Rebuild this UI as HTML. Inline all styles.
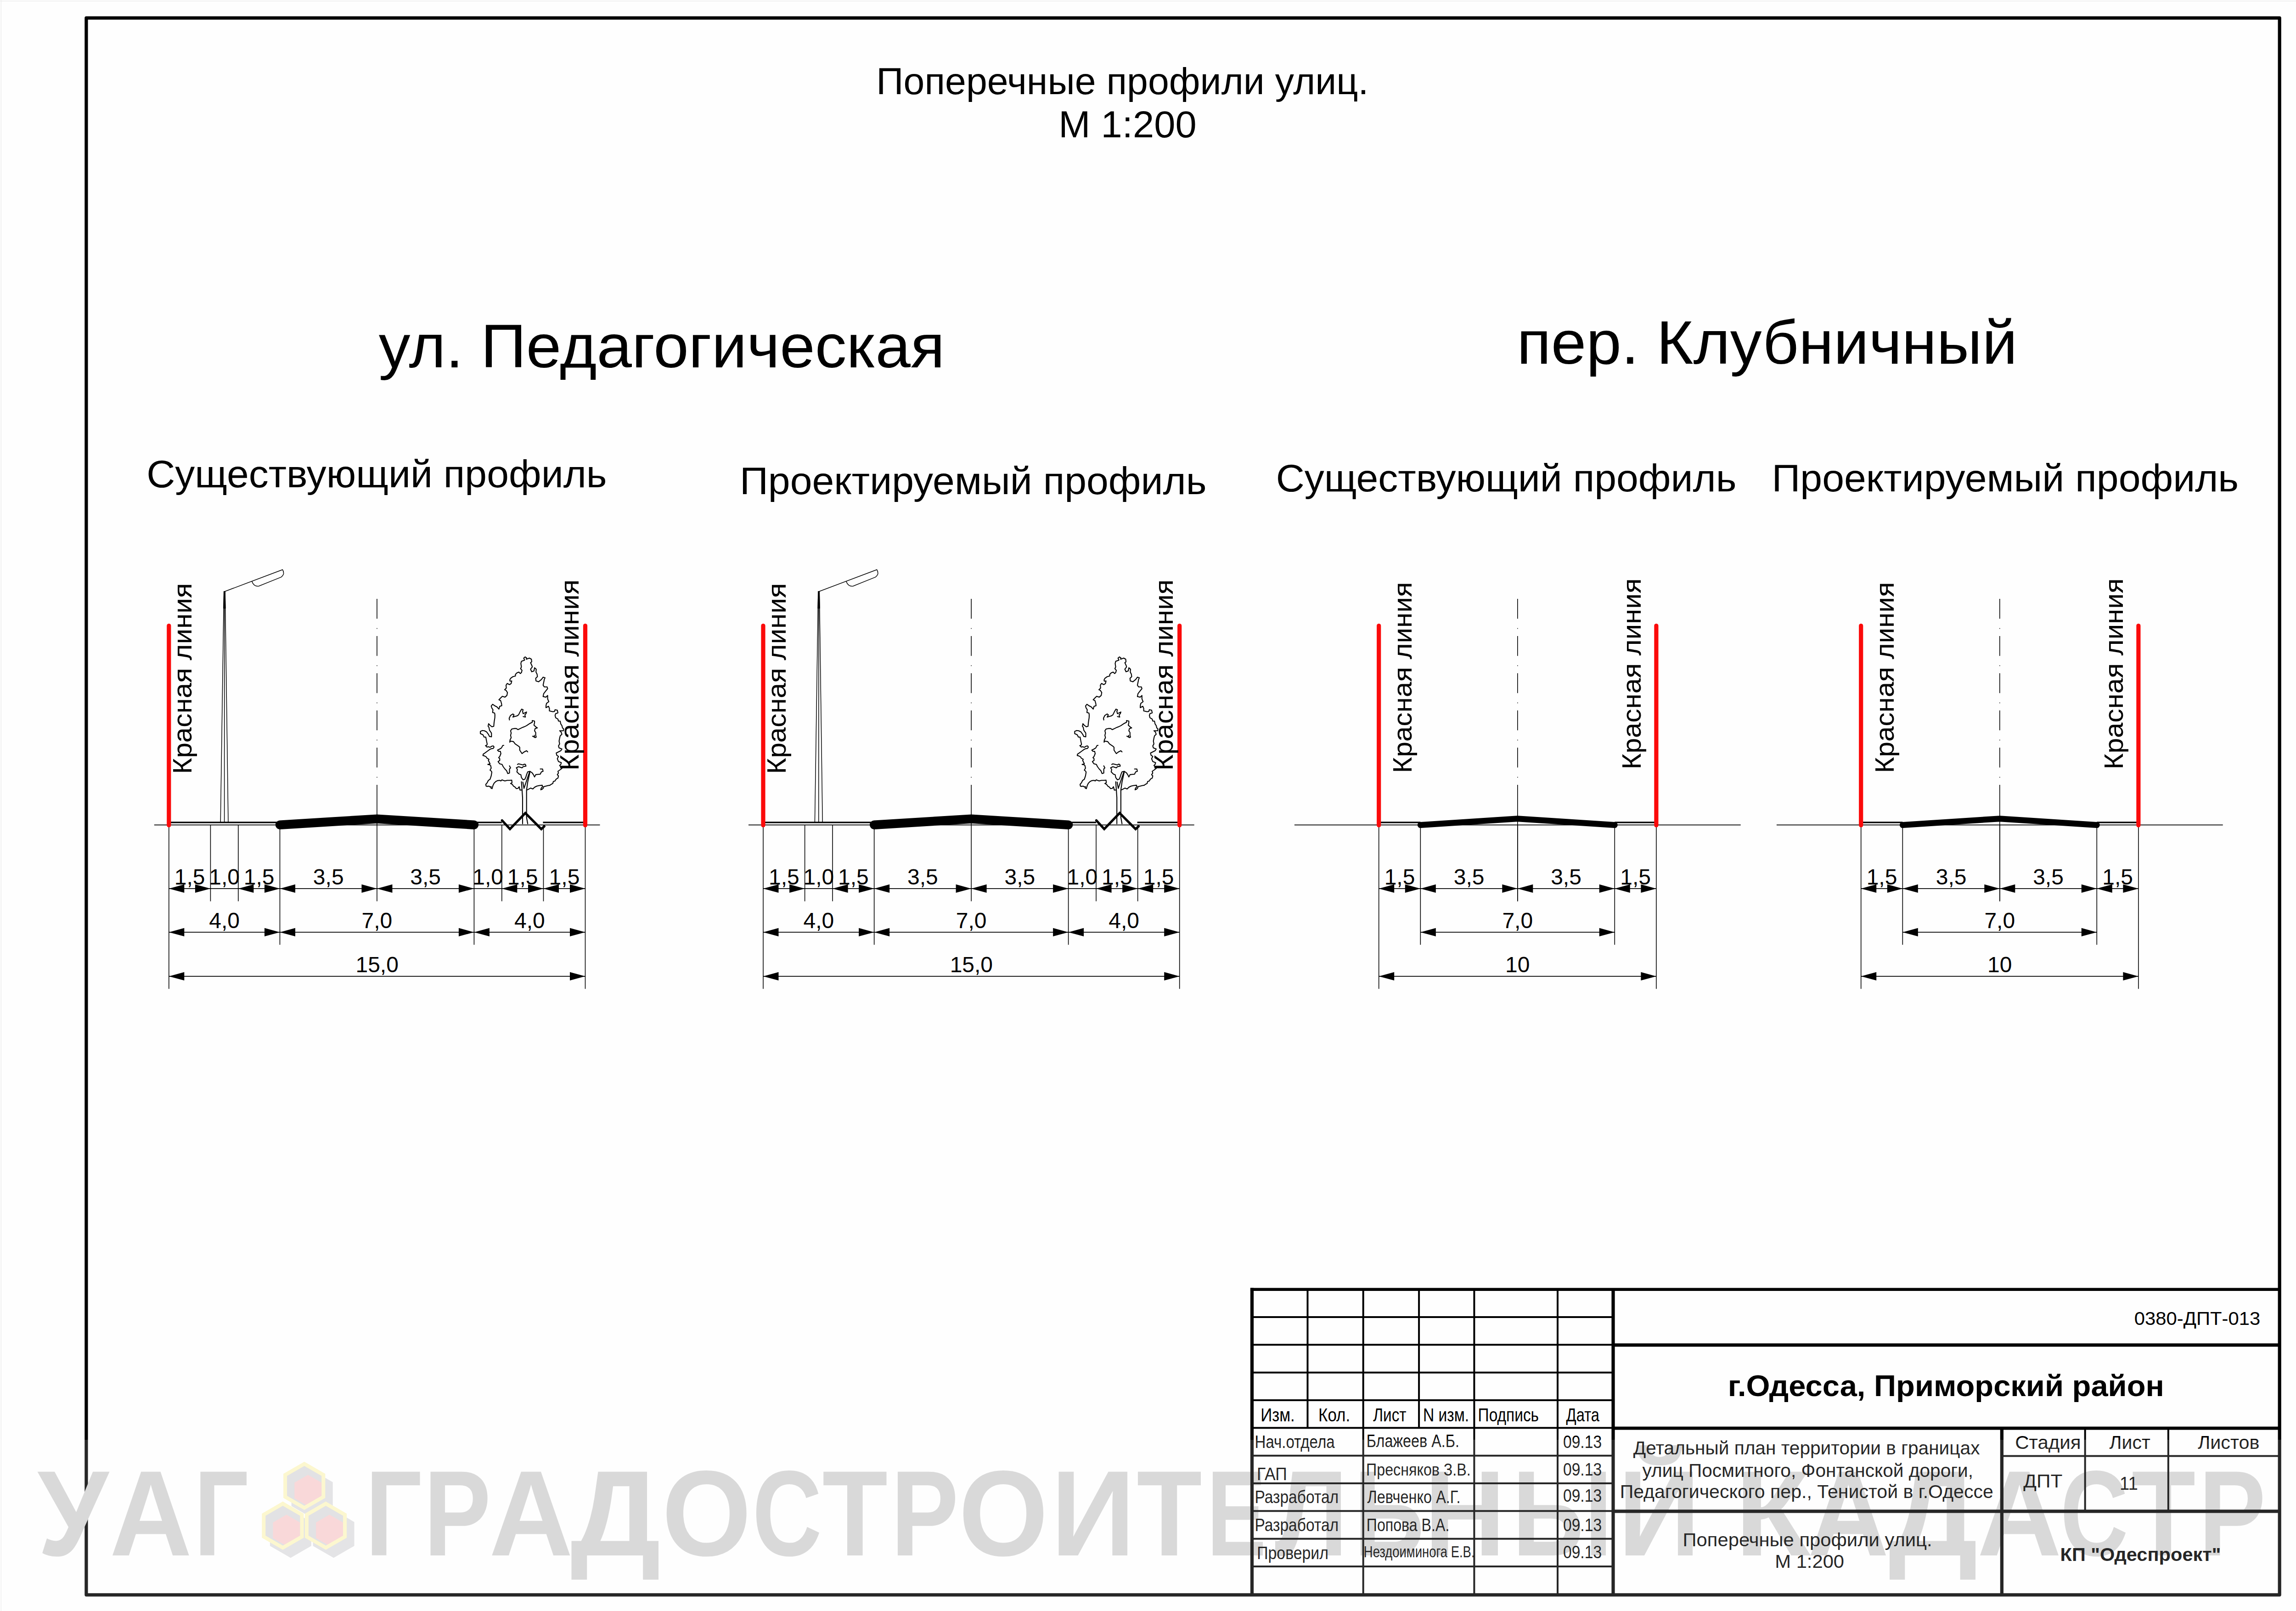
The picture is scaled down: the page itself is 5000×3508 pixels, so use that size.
<!DOCTYPE html>
<html><head><meta charset="utf-8"><title>Поперечные профили улиц</title>
<style>html,body{margin:0;padding:0;background:#fff;overflow:hidden}svg{display:block}text{font-family:"Liberation Sans",sans-serif}</style>
</head><body>
<svg width="5000" height="3508" viewBox="0 0 5000 3508">
<rect x="0" y="0" width="5000" height="3508" fill="#fefefe"/>
<line x1="0" y1="2.4" x2="5000" y2="2.4" stroke="#ebebeb" stroke-width="1.3"/>
<line x1="2.4" y1="0" x2="2.4" y2="3508" stroke="#ebebeb" stroke-width="1.3"/>
<rect x="187.9" y="39.2" width="4776.3" height="3433.6" fill="none" stroke="#000" stroke-width="7.2" stroke-linejoin="round"/>
<text x="1908.28" y="204.50" font-size="81" textLength="1072.23" lengthAdjust="spacingAndGlyphs" fill="#000">Поперечные профили улиц.</text>
<text x="2305.22" y="298.60" font-size="81" textLength="300.54" lengthAdjust="spacingAndGlyphs" fill="#000">М 1:200</text>
<text x="824.69" y="799.50" font-size="134" textLength="1232.84" lengthAdjust="spacingAndGlyphs" fill="#000">ул. Педагогическая</text>
<text x="3303.15" y="792.00" font-size="134" textLength="1090.31" lengthAdjust="spacingAndGlyphs" fill="#000">пер. Клубничный</text>
<text x="319.15" y="1060.60" font-size="83" textLength="1002.43" lengthAdjust="spacingAndGlyphs" fill="#000">Существующий профиль</text>
<text x="1611.06" y="1076.00" font-size="83" textLength="1016.52" lengthAdjust="spacingAndGlyphs" fill="#000">Проектируемый профиль</text>
<text x="2778.65" y="1069.60" font-size="83" textLength="1002.94" lengthAdjust="spacingAndGlyphs" fill="#000">Существующий профиль</text>
<text x="3858.56" y="1069.60" font-size="83" textLength="1016.62" lengthAdjust="spacingAndGlyphs" fill="#000">Проектируемый профиль</text>
<g font-family="Liberation Sans, sans-serif" fill="#d3d3d3"><text x="81.51" y="3387.00" font-size="265" font-weight="bold" textLength="154.69" lengthAdjust="spacingAndGlyphs" fill="#d3d3d3">У</text><text x="238.82" y="3387.00" font-size="265" font-weight="bold" textLength="179.32" lengthAdjust="spacingAndGlyphs" fill="#d3d3d3">А</text><text x="422.42" y="3387.00" font-size="265" font-weight="bold" textLength="118.62" lengthAdjust="spacingAndGlyphs" fill="#d3d3d3">Г</text><text x="795.47" y="3387.00" font-size="265" font-weight="bold" textLength="123.34" lengthAdjust="spacingAndGlyphs" fill="#d3d3d3">Г</text><text x="922.86" y="3387.00" font-size="265" font-weight="bold" textLength="146.23" lengthAdjust="spacingAndGlyphs" fill="#d3d3d3">Р</text><text x="1065.09" y="3387.00" font-size="265" font-weight="bold" textLength="182.87" lengthAdjust="spacingAndGlyphs" fill="#d3d3d3">А</text><text x="1242.10" y="3387.00" font-size="265" font-weight="bold" textLength="196.89" lengthAdjust="spacingAndGlyphs" fill="#d3d3d3">Д</text><text x="1441.51" y="3387.00" font-size="265" font-weight="bold" textLength="194.59" lengthAdjust="spacingAndGlyphs" fill="#d3d3d3">О</text><text x="1638.38" y="3387.00" font-size="265" font-weight="bold" textLength="151.38" lengthAdjust="spacingAndGlyphs" fill="#d3d3d3">С</text><text x="1790.66" y="3387.00" font-size="265" font-weight="bold" textLength="142.36" lengthAdjust="spacingAndGlyphs" fill="#d3d3d3">Т</text><text x="1940.25" y="3387.00" font-size="265" font-weight="bold" textLength="147.29" lengthAdjust="spacingAndGlyphs" fill="#d3d3d3">Р</text><text x="2087.70" y="3387.00" font-size="265" font-weight="bold" textLength="194.82" lengthAdjust="spacingAndGlyphs" fill="#d3d3d3">О</text><text x="2288.65" y="3387.00" font-size="265" font-weight="bold" textLength="183.47" lengthAdjust="spacingAndGlyphs" fill="#d3d3d3">И</text><text x="2475.37" y="3387.00" font-size="265" font-weight="bold" textLength="142.16" lengthAdjust="spacingAndGlyphs" fill="#d3d3d3">Т</text><text x="2628.03" y="3387.00" font-size="265" font-weight="bold" textLength="129.56" lengthAdjust="spacingAndGlyphs" fill="#d3d3d3">Е</text><text x="2776.14" y="3387.00" font-size="265" font-weight="bold" textLength="159.03" lengthAdjust="spacingAndGlyphs" fill="#d3d3d3">Л</text><text x="2948.80" y="3387.00" font-size="265" font-weight="bold" textLength="152.79" lengthAdjust="spacingAndGlyphs" fill="#d3d3d3">Ь</text><text x="3101.64" y="3387.00" font-size="265" font-weight="bold" textLength="176.88" lengthAdjust="spacingAndGlyphs" fill="#d3d3d3">Н</text><text x="3293.07" y="3387.00" font-size="265" font-weight="bold" textLength="218.90" lengthAdjust="spacingAndGlyphs" fill="#d3d3d3">Ы</text><text x="3523.43" y="3387.00" font-size="265" font-weight="bold" textLength="179.29" lengthAdjust="spacingAndGlyphs" fill="#d3d3d3">Й</text><text x="3777.98" y="3387.00" font-size="265" font-weight="bold" textLength="164.66" lengthAdjust="spacingAndGlyphs" fill="#d3d3d3">К</text><text x="3936.91" y="3387.00" font-size="265" font-weight="bold" textLength="176.52" lengthAdjust="spacingAndGlyphs" fill="#d3d3d3">А</text><text x="4112.63" y="3387.00" font-size="265" font-weight="bold" textLength="194.29" lengthAdjust="spacingAndGlyphs" fill="#d3d3d3">Д</text><text x="4305.65" y="3387.00" font-size="265" font-weight="bold" textLength="184.06" lengthAdjust="spacingAndGlyphs" fill="#d3d3d3">А</text><text x="4486.57" y="3387.00" font-size="265" font-weight="bold" textLength="148.06" lengthAdjust="spacingAndGlyphs" fill="#d3d3d3">С</text><text x="4641.92" y="3387.00" font-size="265" font-weight="bold" textLength="139.25" lengthAdjust="spacingAndGlyphs" fill="#d3d3d3">Т</text><text x="4788.42" y="3387.00" font-size="265" font-weight="bold" textLength="145.64" lengthAdjust="spacingAndGlyphs" fill="#d3d3d3">Р</text></g>
<g font-family="Liberation Sans, sans-serif">
<g id="p1"><line x1="335.80" y1="1796.40" x2="1306.50" y2="1796.40" stroke="#000" stroke-width="1.6" stroke-linecap="butt"/><line x1="367.80" y1="1790.80" x2="609.48" y2="1790.80" stroke="#000" stroke-width="3.2" stroke-linecap="butt"/><line x1="1032.42" y1="1790.80" x2="1092.84" y2="1790.80" stroke="#000" stroke-width="3.2" stroke-linecap="butt"/><line x1="1182.47" y1="1790.80" x2="1274.50" y2="1790.80" stroke="#000" stroke-width="3.2" stroke-linecap="butt"/><polyline points="480.2,1790.8 487.6,1288.2 490.2,1288.2 497,1790.8" fill="none" stroke="#000" stroke-width="1.5"/><polygon points="487.2,1287.5 490.6,1287.5 491.6,1325 486.2,1325" fill="#000"/><line x1="488.80" y1="1288.20" x2="488.60" y2="1790.80" stroke="#000" stroke-width="1.5" stroke-linecap="butt"/><path d="M488.7,1288.2 L615.3,1240.5 Q618,1244 617.5,1250 Q616,1254 612.4,1256.6 L563.7,1276.2 Q553,1278 548.8,1266.2" fill="none" stroke="#000" stroke-width="1.5"/><polyline points="1143.6,1430.6 1140.5,1433.0 1142.4,1437.4 1135.5,1439.9 1134.3,1444.8 1135.5,1452.3 1133.7,1456.0 1136.8,1459.7 1135.5,1464.7 1133.0,1466.6 1129.9,1463.5 1125.6,1465.3 1122.5,1468.4 1122.5,1472.1 1116.9,1473.4 1111.9,1477.1 1110.1,1480.8 1110.7,1483.3 1114.4,1482.7 1113.2,1488.3 1109.5,1490.8 1104.5,1488.3 1102.0,1492.0 1102.6,1498.2 1098.9,1501.9 1102.0,1503.2 1105.1,1508.1 1103.9,1514.4 1099.5,1518.1 1093.9,1516.2 1089.6,1520.6 1086.5,1523.7 1090.2,1525.5 1092.1,1531.7 1092.7,1536.7 1088.3,1537.9 1086.5,1544.1 1082.1,1539.2 1077.2,1536.7 1072.8,1533.6 1069.7,1537.3 1071.0,1541.7 1073.5,1545.4 1072.8,1551.6 1077.2,1552.8 1077.8,1556.6 1077.6,1562.8 1076.6,1569.0 1075.9,1573.9 1075.3,1581.4 1071.6,1582.6 1067.2,1579.5 1064.1,1575.8 1062.9,1581.4 1064.8,1583.9 1066.0,1590.1 1070.3,1596.3 1070.3,1604.4 1066.0,1603.7 1063.5,1598.8 1059.8,1593.8 1054.8,1591.3 1050.5,1590.7 1046.1,1592.6 1046.1,1597.5 1051.7,1600.0 1054.2,1605.0 1057.9,1605.0 1058.6,1608.7 1059.8,1614.9 1061.0,1620.5 1059.8,1623.0 1057.3,1623.6 1060.4,1626.7 1063.5,1626.1 1067.2,1627.3 1071.0,1624.8 1074.1,1624.2 1075.9,1626.7 1074.1,1629.8 1069.7,1630.4 1066.0,1632.3 1061.0,1636.0 1056.1,1639.7 1052.3,1642.2 1051.7,1645.3 1054.8,1645.9 1059.2,1648.4 1060.4,1650.9 1064.8,1653.4 1063.5,1655.9 1065.4,1659.6 1067.2,1663.3 1062.3,1664.6 1066.0,1665.2 1068.5,1667.0 1069.7,1672.6 1067.2,1677.0 1070.3,1679.5 1071.0,1681.9 1069.7,1689.4 1067.2,1696.8 1063.5,1699.3 1061.0,1704.3 1057.9,1708.0 1058.6,1711.7 1061.0,1712.4 1064.8,1711.7 1067.2,1713.6 1069.7,1713.0 1069.1,1716.1 1071.6,1717.3 1073.5,1710.5 1075.9,1705.5 1079.7,1701.8 1083.4,1699.9 1088.3,1699.3 1090.8,1700.6 1093.3,1698.1 1095.8,1699.3 1099.5,1700.6 1104.5,1699.3 1109.5,1699.3 1114.4,1698.7 1115.0,1704.3 1111.9,1706.1 1115.7,1708.0 1118.1,1711.7 1121.9,1714.2 1124.4,1717.3 1128.1,1716.7 1130.6,1713.0 1132.4,1720.4 1136.5,1720.2" fill="none" stroke="#000" stroke-width="2.1" stroke-linejoin="round" stroke-linecap="round"/><polyline points="1143.6,1430.6 1146.7,1432.4 1146.1,1435.5 1152.9,1433.0 1157.3,1435.5 1157.9,1441.1 1155.4,1443.0 1158.5,1449.8 1159.1,1452.3 1155.4,1457.2 1157.9,1462.8 1162.8,1461.0 1164.1,1454.1 1167.8,1457.2 1167.2,1463.5 1169.6,1468.1 1170.3,1473.4 1166.6,1477.1 1167.2,1482.7 1172.8,1484.6 1179.0,1479.6 1182.7,1474.6 1187.0,1475.9 1185.2,1479.6 1184.6,1483.3 1182.7,1492.0 1185.2,1495.7 1191.4,1495.7 1192.6,1499.5 1187.7,1505.7 1183.9,1510.6 1182.7,1516.8 1188.9,1518.1 1192.6,1514.4 1192.6,1521.8 1195.1,1528.0 1190.1,1531.7 1189.1,1536.3 1188.9,1541.0 1194.5,1537.9 1196.5,1542.7 1196.4,1547.9 1203.8,1549.7 1207.5,1549.1 1208.8,1545.4 1213.7,1546.6 1215.0,1552.2 1210.0,1554.1 1208.8,1557.8 1210.0,1562.8 1215.0,1565.9 1216.2,1570.2 1219.9,1570.2 1221.2,1576.4 1223.7,1580.1 1224.9,1585.1 1227.4,1587.0 1226.8,1591.3 1218.7,1591.3 1221.8,1593.8 1223.7,1598.8 1219.9,1602.5 1218.7,1607.5 1217.5,1613.7 1218.7,1619.9 1216.2,1624.2 1217.5,1628.6 1223.7,1631.0 1221.2,1634.8 1216.2,1637.2 1211.3,1639.7 1212.5,1644.7 1216.2,1647.2 1213.7,1652.1 1216.2,1658.3 1222.4,1660.8 1221.2,1664.6 1218.7,1667.0 1221.2,1669.5 1223.7,1673.2 1218.7,1677.0 1215.0,1679.5 1216.2,1683.2 1213.7,1686.9 1216.2,1689.4 1215.0,1694.4 1212.5,1695.6 1210.0,1698.1 1208.8,1700.6 1205.0,1701.8 1203.8,1706.1 1200.1,1708.0 1197.6,1709.9 1193.9,1710.5 1188.9,1711.7 1183.9,1713.0 1183.3,1716.1 1180.8,1718.6 1177.7,1719.8 1178.4,1716.7 1181.5,1713.0 1180.8,1709.9 1174.6,1710.5 1169.0,1711.7 1164.1,1714.2 1160.4,1717.9 1155.4,1716.1 1148.6,1719.8" fill="none" stroke="#000" stroke-width="2.1" stroke-linejoin="round" stroke-linecap="round"/><polyline points="1109.5,1567.7 1108.8,1564.0 1111.9,1557.8 1116.9,1554.7 1119.4,1556.6 1116.9,1561.5 1120.6,1560.3 1125.6,1559.0 1129.3,1556.6 1133.0,1549.1 1136.1,1544.1 1139.2,1545.4 1138.0,1549.1 1139.2,1554.1 1146.7,1550.4 1145.5,1554.1 1143.0,1556.6 1144.2,1561.5 1139.2,1560.3" fill="none" stroke="#000" stroke-width="2.1" stroke-linejoin="round" stroke-linecap="round"/><polyline points="1161.6,1603.7 1165.3,1606.2 1167.8,1605.0 1166.6,1601.3 1166.6,1595.0 1164.1,1591.3 1165.3,1586.4 1170.3,1585.1 1166.6,1582.6 1162.8,1578.9 1164.1,1573.9 1164.1,1570.2 1159.1,1569.0 1159.1,1572.7 1154.1,1575.2 1150.4,1577.7 1146.7,1580.1 1141.7,1582.6 1138.0,1583.9 1133.0,1586.4 1128.1,1588.8 1124.4,1586.4 1119.4,1586.4 1114.4,1587.6 1111.9,1591.3 1113.2,1596.3 1111.9,1601.3 1113.2,1606.2 1110.7,1611.2 1110.1,1616.2 1111.9,1613.7 1118.1,1614.9 1121.9,1619.9 1129.3,1624.8 1131.8,1627.3 1131.8,1633.5 1136.8,1641.0 1141.7,1637.2 1146.7,1634.8 1149.2,1637.2" fill="none" stroke="#000" stroke-width="2.1" stroke-linejoin="round" stroke-linecap="round"/><polyline points="1097.0,1623.0 1094.6,1623.6 1092.1,1628.6 1088.3,1631.0 1083.4,1633.5 1085.9,1636.0 1089.6,1636.0 1090.8,1641.0 1088.3,1647.2 1085.9,1649.7 1088.3,1652.1 1088.3,1655.9 1084.6,1658.3 1088.3,1663.3 1093.3,1664.6 1095.8,1669.5 1099.5,1674.5 1103.2,1678.2 1105.7,1684.4 1109.5,1683.2 1109.5,1674.5 1111.9,1672.0 1109.5,1667.7" fill="none" stroke="#000" stroke-width="2.1" stroke-linejoin="round" stroke-linecap="round"/><polyline points="1176.5,1674.5 1181.5,1674.5 1182.7,1679.5 1179.0,1680.7 1176.5,1685.7 1171.5,1686.2 1166.6,1686.9 1164.1,1691.9 1161.6,1686.9 1159.1,1683.2 1154.1,1679.5 1149.2,1680.7 1146.7,1686.9 1145.2,1692.0 1143.0,1696.8 1139.2,1698.1 1135.5,1693.1 1134.3,1686.9 1130.6,1685.7 1125.6,1680.7 1126.8,1675.7 1124.4,1672.0 1129.3,1669.5 1136.8,1672.0 1139.2,1669.5 1145.5,1668.3 1144.2,1664.6 1141.7,1663.9 1139.2,1665.8 1134.3,1664.6 1129.3,1663.3 1126.8,1664.6" fill="none" stroke="#000" stroke-width="2.1" stroke-linejoin="round" stroke-linecap="round"/><polyline points="1159.7,1603.1 1164.1,1605.0 1163.5,1601.2" fill="none" stroke="#000" stroke-width="2.1" stroke-linejoin="round" stroke-linecap="round"/><polyline points="1135.5,1702.4 1136.8,1719.2 1138.0,1736.6 1138.0,1793.7" fill="none" stroke="#000" stroke-width="2.1" stroke-linejoin="round" stroke-linecap="round"/><polyline points="1154.1,1680.7 1149.2,1703.0 1146.7,1720.4 1146.7,1761.4 1146.7,1780.0 1149.2,1793.7" fill="none" stroke="#000" stroke-width="2.1" stroke-linejoin="round" stroke-linecap="round"/><polyline points="1138.6,1703.0 1141.1,1716.7 1152.9,1681.9" fill="none" stroke="#000" stroke-width="2.1" stroke-linejoin="round" stroke-linecap="round"/><polyline points="1093.3,1786.5 1110.5,1805.3 1144,1770.5 1178.8,1805.3 1185.3,1799.4" fill="none" stroke="#000" stroke-width="5.2" stroke-linejoin="miter" stroke-linecap="round"/><polyline points="609.48,1796.2 820.95,1783.2 1032.42,1796.2" fill="none" stroke="#000" stroke-width="19.5" stroke-linecap="round" stroke-linejoin="round"/><line x1="820.95" y1="1304.10" x2="820.95" y2="1709.10" stroke="#000" stroke-width="1.6" stroke-dasharray="43.2 20.4 1.6 15.8"/><line x1="820.95" y1="1709.10" x2="820.95" y2="1962.60" stroke="#000" stroke-width="1.6" stroke-linecap="butt"/><line x1="458.43" y1="1796.40" x2="458.43" y2="1962.60" stroke="#000" stroke-width="1.6" stroke-linecap="butt"/><line x1="518.85" y1="1796.40" x2="518.85" y2="1962.60" stroke="#000" stroke-width="1.6" stroke-linecap="butt"/><line x1="1092.84" y1="1796.40" x2="1092.84" y2="1962.60" stroke="#000" stroke-width="1.6" stroke-linecap="butt"/><line x1="1183.47" y1="1796.40" x2="1183.47" y2="1962.60" stroke="#000" stroke-width="1.6" stroke-linecap="butt"/><line x1="609.48" y1="1796.40" x2="609.48" y2="2057.30" stroke="#000" stroke-width="1.6" stroke-linecap="butt"/><line x1="1032.42" y1="1796.40" x2="1032.42" y2="2057.30" stroke="#000" stroke-width="1.6" stroke-linecap="butt"/><line x1="367.80" y1="1796.40" x2="367.80" y2="2153.30" stroke="#000" stroke-width="1.6" stroke-linecap="butt"/><line x1="1274.50" y1="1796.40" x2="1274.50" y2="2153.30" stroke="#000" stroke-width="1.6" stroke-linecap="butt"/><line x1="367.80" y1="1362.50" x2="367.80" y2="1797.00" stroke="#fb0a0a" stroke-width="9.2" stroke-linecap="round"/><line x1="1274.50" y1="1362.50" x2="1274.50" y2="1797.00" stroke="#fb0a0a" stroke-width="9.2" stroke-linecap="round"/><line x1="367.80" y1="1934.90" x2="1274.50" y2="1934.90" stroke="#000" stroke-width="1.6" stroke-linecap="butt"/><polygon points="367.80,1934.90 401.30,1925.70 401.30,1944.10" fill="#000"/><polygon points="458.43,1934.90 424.93,1925.70 424.93,1944.10" fill="#000"/><text x="413.12" y="1925.90" font-size="48" text-anchor="middle">1,5</text><text x="488.64" y="1925.90" font-size="48" text-anchor="middle">1,0</text><polygon points="518.85,1934.90 552.35,1925.70 552.35,1944.10" fill="#000"/><polygon points="609.48,1934.90 575.98,1925.70 575.98,1944.10" fill="#000"/><text x="564.16" y="1925.90" font-size="48" text-anchor="middle">1,5</text><polygon points="609.48,1934.90 642.98,1925.70 642.98,1944.10" fill="#000"/><polygon points="820.95,1934.90 787.45,1925.70 787.45,1944.10" fill="#000"/><text x="715.22" y="1925.90" font-size="48" text-anchor="middle">3,5</text><polygon points="820.95,1934.90 854.45,1925.70 854.45,1944.10" fill="#000"/><polygon points="1032.42,1934.90 998.92,1925.70 998.92,1944.10" fill="#000"/><text x="926.69" y="1925.90" font-size="48" text-anchor="middle">3,5</text><text x="1062.63" y="1925.90" font-size="48" text-anchor="middle">1,0</text><polygon points="1092.84,1934.90 1126.34,1925.70 1126.34,1944.10" fill="#000"/><polygon points="1183.47,1934.90 1149.97,1925.70 1149.97,1944.10" fill="#000"/><text x="1138.15" y="1925.90" font-size="48" text-anchor="middle">1,5</text><polygon points="1183.47,1934.90 1216.97,1925.70 1216.97,1944.10" fill="#000"/><polygon points="1274.50,1934.90 1241.00,1925.70 1241.00,1944.10" fill="#000"/><text x="1228.99" y="1925.90" font-size="48" text-anchor="middle">1,5</text><line x1="367.80" y1="2029.90" x2="1274.50" y2="2029.90" stroke="#000" stroke-width="1.6" stroke-linecap="butt"/><polygon points="367.80,2029.90 401.30,2020.70 401.30,2039.10" fill="#000"/><polygon points="609.48,2029.90 575.98,2020.70 575.98,2039.10" fill="#000"/><text x="488.64" y="2020.90" font-size="48" text-anchor="middle">4,0</text><polygon points="609.48,2029.90 642.98,2020.70 642.98,2039.10" fill="#000"/><polygon points="1032.42,2029.90 998.92,2020.70 998.92,2039.10" fill="#000"/><text x="820.95" y="2020.90" font-size="48" text-anchor="middle">7,0</text><polygon points="1032.42,2029.90 1065.92,2020.70 1065.92,2039.10" fill="#000"/><polygon points="1274.50,2029.90 1241.00,2020.70 1241.00,2039.10" fill="#000"/><text x="1153.46" y="2020.90" font-size="48" text-anchor="middle">4,0</text><line x1="367.80" y1="2125.90" x2="1274.50" y2="2125.90" stroke="#000" stroke-width="1.6" stroke-linecap="butt"/><polygon points="367.80,2125.90 401.30,2116.70 401.30,2135.10" fill="#000"/><polygon points="1274.50,2125.90 1241.00,2116.70 1241.00,2135.10" fill="#000"/><text x="821.15" y="2116.90" font-size="48" text-anchor="middle">15,0</text><text transform="translate(416.50,1685.62) rotate(-90)" x="0" y="0" font-size="57.5" textLength="416.02" lengthAdjust="spacingAndGlyphs" fill="#000">Красная линия</text><text transform="translate(1260.10,1677.92) rotate(-90)" x="0" y="0" font-size="57.5" textLength="416.02" lengthAdjust="spacingAndGlyphs" fill="#000">Красная линия</text></g>
<use href="#p1" transform="translate(1294.2,0)"/>
<g id="p3"><line x1="2818.90" y1="1796.40" x2="3790.70" y2="1796.40" stroke="#000" stroke-width="1.6" stroke-linecap="butt"/><line x1="3002.70" y1="1790.80" x2="3093.33" y2="1790.80" stroke="#000" stroke-width="3.2" stroke-linecap="butt"/><line x1="3516.27" y1="1790.80" x2="3606.90" y2="1790.80" stroke="#000" stroke-width="3.2" stroke-linecap="butt"/><polyline points="3093.33,1796.5 3304.80,1782.7 3516.27,1796.5" fill="none" stroke="#000" stroke-width="13" stroke-linecap="round" stroke-linejoin="round"/><line x1="3304.80" y1="1304.10" x2="3304.80" y2="1709.10" stroke="#000" stroke-width="1.6" stroke-dasharray="43.2 20.4 1.6 15.8"/><line x1="3304.80" y1="1709.10" x2="3304.80" y2="1962.60" stroke="#000" stroke-width="1.6" stroke-linecap="butt"/><line x1="3304.80" y1="1796.40" x2="3304.80" y2="1962.60" stroke="#000" stroke-width="1.6" stroke-linecap="butt"/><line x1="3093.33" y1="1796.40" x2="3093.33" y2="2057.30" stroke="#000" stroke-width="1.6" stroke-linecap="butt"/><line x1="3516.27" y1="1796.40" x2="3516.27" y2="2057.30" stroke="#000" stroke-width="1.6" stroke-linecap="butt"/><line x1="3002.70" y1="1796.40" x2="3002.70" y2="2153.30" stroke="#000" stroke-width="1.6" stroke-linecap="butt"/><line x1="3606.90" y1="1796.40" x2="3606.90" y2="2153.30" stroke="#000" stroke-width="1.6" stroke-linecap="butt"/><line x1="3002.70" y1="1362.50" x2="3002.70" y2="1797.00" stroke="#fb0a0a" stroke-width="9.2" stroke-linecap="round"/><line x1="3606.90" y1="1362.50" x2="3606.90" y2="1797.00" stroke="#fb0a0a" stroke-width="9.2" stroke-linecap="round"/><line x1="3002.70" y1="1934.90" x2="3606.90" y2="1934.90" stroke="#000" stroke-width="1.6" stroke-linecap="butt"/><polygon points="3002.70,1934.90 3036.20,1925.70 3036.20,1944.10" fill="#000"/><polygon points="3093.33,1934.90 3059.83,1925.70 3059.83,1944.10" fill="#000"/><text x="3048.01" y="1925.90" font-size="48" text-anchor="middle">1,5</text><polygon points="3093.33,1934.90 3126.83,1925.70 3126.83,1944.10" fill="#000"/><polygon points="3304.80,1934.90 3271.30,1925.70 3271.30,1944.10" fill="#000"/><text x="3199.06" y="1925.90" font-size="48" text-anchor="middle">3,5</text><polygon points="3304.80,1934.90 3338.30,1925.70 3338.30,1944.10" fill="#000"/><polygon points="3516.27,1934.90 3482.77,1925.70 3482.77,1944.10" fill="#000"/><text x="3410.53" y="1925.90" font-size="48" text-anchor="middle">3,5</text><polygon points="3516.27,1934.90 3549.77,1925.70 3549.77,1944.10" fill="#000"/><polygon points="3606.90,1934.90 3573.40,1925.70 3573.40,1944.10" fill="#000"/><text x="3561.59" y="1925.90" font-size="48" text-anchor="middle">1,5</text><line x1="3093.33" y1="2029.90" x2="3516.27" y2="2029.90" stroke="#000" stroke-width="1.6" stroke-linecap="butt"/><polygon points="3093.33,2029.90 3126.83,2020.70 3126.83,2039.10" fill="#000"/><polygon points="3516.27,2029.90 3482.77,2020.70 3482.77,2039.10" fill="#000"/><text x="3304.80" y="2020.90" font-size="48" text-anchor="middle">7,0</text><line x1="3002.70" y1="2125.90" x2="3606.90" y2="2125.90" stroke="#000" stroke-width="1.6" stroke-linecap="butt"/><polygon points="3002.70,2125.90 3036.20,2116.70 3036.20,2135.10" fill="#000"/><polygon points="3606.90,2125.90 3573.40,2116.70 3573.40,2135.10" fill="#000"/><text x="3304.80" y="2116.90" font-size="48" text-anchor="middle">10</text><text transform="translate(3074.30,1683.52) rotate(-90)" x="0" y="0" font-size="57.5" textLength="416.02" lengthAdjust="spacingAndGlyphs" fill="#000">Красная линия</text><text transform="translate(3572.50,1675.52) rotate(-90)" x="0" y="0" font-size="57.5" textLength="416.02" lengthAdjust="spacingAndGlyphs" fill="#000">Красная линия</text></g>
<use href="#p3" transform="translate(1050,0)"/>
</g>
<g font-family="Liberation Sans, sans-serif">
<line x1="2726.50" y1="2868.03" x2="3513.00" y2="2868.03" stroke="#000" stroke-width="4.0" stroke-linecap="butt"/>
<line x1="2726.50" y1="2928.36" x2="3513.00" y2="2928.36" stroke="#000" stroke-width="4.0" stroke-linecap="butt"/>
<line x1="2726.50" y1="2988.69" x2="3513.00" y2="2988.69" stroke="#000" stroke-width="4.0" stroke-linecap="butt"/>
<line x1="2726.50" y1="3049.02" x2="3513.00" y2="3049.02" stroke="#000" stroke-width="4.0" stroke-linecap="butt"/>
<line x1="2726.50" y1="3109.35" x2="3513.00" y2="3109.35" stroke="#000" stroke-width="4.0" stroke-linecap="butt"/>
<line x1="2726.50" y1="3169.68" x2="3513.00" y2="3169.68" stroke="#000" stroke-width="4.0" stroke-linecap="butt"/>
<line x1="2726.50" y1="3230.01" x2="3513.00" y2="3230.01" stroke="#000" stroke-width="4.0" stroke-linecap="butt"/>
<line x1="2726.50" y1="3290.34" x2="3513.00" y2="3290.34" stroke="#000" stroke-width="4.0" stroke-linecap="butt"/>
<line x1="2726.50" y1="3350.67" x2="3513.00" y2="3350.67" stroke="#000" stroke-width="4.0" stroke-linecap="butt"/>
<line x1="2726.50" y1="3411.00" x2="3513.00" y2="3411.00" stroke="#000" stroke-width="4.0" stroke-linecap="butt"/>
<line x1="2847.50" y1="2807.70" x2="2847.50" y2="3109.35" stroke="#000" stroke-width="4.0" stroke-linecap="butt"/>
<line x1="3090.10" y1="2807.70" x2="3090.10" y2="3109.35" stroke="#000" stroke-width="4.0" stroke-linecap="butt"/>
<line x1="2968.70" y1="2807.70" x2="2968.70" y2="3472.80" stroke="#000" stroke-width="4.0" stroke-linecap="butt"/>
<line x1="3210.40" y1="2807.70" x2="3210.40" y2="3472.80" stroke="#000" stroke-width="4.0" stroke-linecap="butt"/>
<line x1="3392.00" y1="2807.70" x2="3392.00" y2="3472.80" stroke="#000" stroke-width="4.0" stroke-linecap="butt"/>
<line x1="2726.50" y1="2804.50" x2="2726.50" y2="3472.80" stroke="#000" stroke-width="7.2" stroke-linecap="butt"/>
<line x1="2722.90" y1="2807.70" x2="4964.20" y2="2807.70" stroke="#000" stroke-width="6.6" stroke-linecap="butt"/>
<line x1="3513.00" y1="2807.70" x2="3513.00" y2="3472.80" stroke="#000" stroke-width="7.2" stroke-linecap="butt"/>
<line x1="3513.00" y1="2928.80" x2="4964.20" y2="2928.80" stroke="#000" stroke-width="7.2" stroke-linecap="butt"/>
<line x1="3513.00" y1="3110.00" x2="4964.20" y2="3110.00" stroke="#000" stroke-width="7.2" stroke-linecap="butt"/>
<line x1="3513.00" y1="3290.90" x2="4964.20" y2="3290.90" stroke="#000" stroke-width="7.2" stroke-linecap="butt"/>
<line x1="4359.40" y1="3110.00" x2="4359.40" y2="3472.80" stroke="#000" stroke-width="7.2" stroke-linecap="butt"/>
<line x1="4540.70" y1="3110.00" x2="4540.70" y2="3290.90" stroke="#000" stroke-width="4.0" stroke-linecap="butt"/>
<line x1="4721.90" y1="3110.00" x2="4721.90" y2="3290.90" stroke="#000" stroke-width="4.0" stroke-linecap="butt"/>
<line x1="4359.40" y1="3170.60" x2="4964.20" y2="3170.60" stroke="#000" stroke-width="4.0" stroke-linecap="butt"/>
<text x="2745.21" y="3094.80" font-size="41" textLength="74.57" lengthAdjust="spacingAndGlyphs" fill="#000">Изм.</text>
<text x="2871.10" y="3094.80" font-size="41" textLength="69.14" lengthAdjust="spacingAndGlyphs" fill="#000">Кол.</text>
<text x="2990.28" y="3094.80" font-size="41" textLength="72.28" lengthAdjust="spacingAndGlyphs" fill="#000">Лист</text>
<text x="3098.91" y="3094.80" font-size="41" textLength="100.18" lengthAdjust="spacingAndGlyphs" fill="#000">N изм.</text>
<text x="3218.61" y="3094.80" font-size="41" textLength="132.45" lengthAdjust="spacingAndGlyphs" fill="#000">Подпись</text>
<text x="3410.56" y="3094.80" font-size="41" textLength="72.43" lengthAdjust="spacingAndGlyphs" fill="#000">Дата</text>
<text x="2732.50" y="3152.90" font-size="38" textLength="174.10" lengthAdjust="spacingAndGlyphs" fill="#000">Нач.отдела</text>
<text x="2975.76" y="3151.10" font-size="38" textLength="202.17" lengthAdjust="spacingAndGlyphs" fill="#000">Блажеев А.Б.</text>
<text x="2737.10" y="3223.30" font-size="38" textLength="65.67" lengthAdjust="spacingAndGlyphs" fill="#000">ГАП</text>
<text x="2975.10" y="3212.90" font-size="36" textLength="227.61" lengthAdjust="spacingAndGlyphs" fill="#000">Пресняков З.В.</text>
<text x="2732.46" y="3273.30" font-size="38" textLength="182.77" lengthAdjust="spacingAndGlyphs" fill="#000">Разработал</text>
<text x="2977.44" y="3273.30" font-size="38" textLength="203.07" lengthAdjust="spacingAndGlyphs" fill="#000">Левченко А.Г.</text>
<text x="2732.46" y="3333.70" font-size="38" textLength="182.77" lengthAdjust="spacingAndGlyphs" fill="#000">Разработал</text>
<text x="2975.78" y="3333.70" font-size="38" textLength="180.62" lengthAdjust="spacingAndGlyphs" fill="#000">Попова В.А.</text>
<text x="2737.24" y="3394.80" font-size="38" textLength="155.77" lengthAdjust="spacingAndGlyphs" fill="#000">Проверил</text>
<text x="2969.83" y="3391.00" font-size="35" textLength="241.70" lengthAdjust="spacingAndGlyphs" fill="#000">Нездоиминога Е.В.</text>
<text x="3403.97" y="3152.90" font-size="38" textLength="84.14" lengthAdjust="spacingAndGlyphs" fill="#000">09.13</text>
<text x="3403.97" y="3212.90" font-size="38" textLength="84.14" lengthAdjust="spacingAndGlyphs" fill="#000">09.13</text>
<text x="3403.97" y="3270.30" font-size="38" textLength="84.14" lengthAdjust="spacingAndGlyphs" fill="#000">09.13</text>
<text x="3403.97" y="3333.70" font-size="38" textLength="84.14" lengthAdjust="spacingAndGlyphs" fill="#000">09.13</text>
<text x="3403.97" y="3392.90" font-size="38" textLength="84.14" lengthAdjust="spacingAndGlyphs" fill="#000">09.13</text>
<text x="4647.79" y="2884.50" font-size="41.5" textLength="274.51" lengthAdjust="spacingAndGlyphs" fill="#000">0380-ДПТ-013</text>
<text x="3762.77" y="3040.00" font-size="65" font-weight="bold" textLength="950.09" lengthAdjust="spacingAndGlyphs" fill="#000">г.Одесса, Приморский район</text>
<text x="4388.22" y="3155.30" font-size="40.5" textLength="143.45" lengthAdjust="spacingAndGlyphs" fill="#000">Стадия</text>
<text x="4593.59" y="3155.30" font-size="40.5" textLength="89.22" lengthAdjust="spacingAndGlyphs" fill="#000">Лист</text>
<text x="4786.19" y="3155.30" font-size="40.5" textLength="134.13" lengthAdjust="spacingAndGlyphs" fill="#000">Листов</text>
<text x="4406.39" y="3239.20" font-size="40.5" textLength="85.14" lengthAdjust="spacingAndGlyphs" fill="#000">ДПТ</text>
<text x="4616.07" y="3243.50" font-size="40.5" textLength="39.76" lengthAdjust="spacingAndGlyphs" fill="#000">11</text>
<text x="3556.70" y="3167.30" font-size="40.5" textLength="754.79" lengthAdjust="spacingAndGlyphs" fill="#000">Детальный план территории в границах</text>
<text x="3576.60" y="3215.60" font-size="40.5" textLength="720.51" lengthAdjust="spacingAndGlyphs" fill="#000">улиц Посмитного, Фонтанской дороги,</text>
<text x="3527.65" y="3262.00" font-size="40.5" textLength="813.19" lengthAdjust="spacingAndGlyphs" fill="#000">Педагогического пер., Тенистой в г.Одессе</text>
<text x="3664.60" y="3366.50" font-size="40.5" textLength="543.05" lengthAdjust="spacingAndGlyphs" fill="#000">Поперечные профили улиц.</text>
<text x="3865.30" y="3413.60" font-size="40.5" textLength="150.78" lengthAdjust="spacingAndGlyphs" fill="#000">М 1:200</text>
<text x="4486.56" y="3399.20" font-size="41" font-weight="bold" textLength="349.85" lengthAdjust="spacingAndGlyphs" fill="#000">КП &quot;Одеспроект&quot;</text>
</g>
<rect x="0" y="3135" width="5000" height="373" fill="#ffffff" fill-opacity="0.15"/>
<polygon points="679.7,3201.5 724.7,3227.5 724.7,3279.5 679.7,3305.5 634.7,3279.5 634.7,3227.5" fill="#e4e4e6"/><polygon points="632.9,3288.2 677.9,3314.2 677.9,3366.2 632.9,3392.2 587.9,3366.2 587.9,3314.2" fill="#e4e4e6"/><polygon points="726.5,3288.2 771.5,3314.2 771.5,3366.2 726.5,3392.2 681.5,3366.2 681.5,3314.2" fill="#e4e4e6"/><clipPath id="hc0"><polygon points="662.7,3191.5 700.8,3213.5 700.8,3257.5 662.7,3279.5 624.6,3257.5 624.6,3213.5"/></clipPath><polygon points="662.7,3187.5 704.3,3211.5 704.3,3259.5 662.7,3283.5 621.1,3259.5 621.1,3211.5" fill="#e2e2e4"/><polygon points="670.7,3211.5 700.1,3228.5 700.1,3262.5 670.7,3279.5 641.3,3262.5 641.3,3228.5" fill="#f9d8d9" clip-path="url(#hc0)"/><polygon points="662.7,3187.5 704.3,3211.5 704.3,3259.5 662.7,3283.5 621.1,3259.5 621.1,3211.5" fill="none" stroke="#fcf7cf" stroke-width="8"/><clipPath id="hc1"><polygon points="615.9,3278.2 654.0,3300.2 654.0,3344.2 615.9,3366.2 577.8,3344.2 577.8,3300.2"/></clipPath><polygon points="615.9,3274.2 657.5,3298.2 657.5,3346.2 615.9,3370.2 574.3,3346.2 574.3,3298.2" fill="#e2e2e4"/><polygon points="623.9,3298.2 653.3,3315.2 653.3,3349.2 623.9,3366.2 594.5,3349.2 594.5,3315.2" fill="#f9d8d9" clip-path="url(#hc1)"/><polygon points="615.9,3274.2 657.5,3298.2 657.5,3346.2 615.9,3370.2 574.3,3346.2 574.3,3298.2" fill="none" stroke="#fcf7cf" stroke-width="8"/><clipPath id="hc2"><polygon points="709.5,3278.2 747.6,3300.2 747.6,3344.2 709.5,3366.2 671.4,3344.2 671.4,3300.2"/></clipPath><polygon points="709.5,3274.2 751.1,3298.2 751.1,3346.2 709.5,3370.2 667.9,3346.2 667.9,3298.2" fill="#e2e2e4"/><polygon points="717.5,3298.2 746.9,3315.2 746.9,3349.2 717.5,3366.2 688.1,3349.2 688.1,3315.2" fill="#f9d8d9" clip-path="url(#hc2)"/><polygon points="709.5,3274.2 751.1,3298.2 751.1,3346.2 709.5,3370.2 667.9,3346.2 667.9,3298.2" fill="none" stroke="#fcf7cf" stroke-width="8"/>
</svg>
</body></html>
